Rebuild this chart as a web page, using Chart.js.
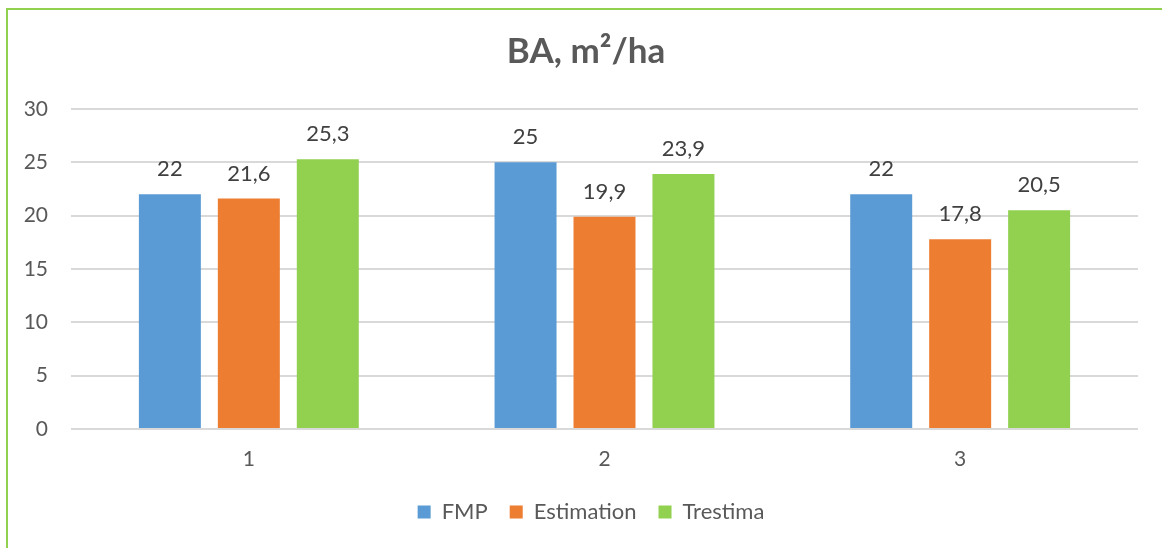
<!DOCTYPE html>
<html>
<head>
<meta charset="utf-8">
<script src="https://cdn.jsdelivr.net/npm/chart.js@4/dist/chart.umd.min.js"></script>
<style>
  html, body { margin: 0; padding: 0; background: #fff; overflow: hidden; }
  #wrap { position: relative; width: 1162px; height: 548px; }
  #marco { position: absolute; left: 6px; top: 8px; width: 1200px; height: 600px;
           border: 2px solid #92D050; box-sizing: border-box; pointer-events: none; }
  canvas { position: absolute; left: 0; top: 0; }
</style>
</head>
<body>
<div id="wrap">
  <canvas id="chartBA" width="1162" height="548"></canvas>
  <div id="marco"></div>
</div>
<script>
/* Datos */
const categorias = ['1', '2', '3'];
const valoresFMP = [22, 25, 22];
const valoresEstimation = [21.6, 19.9, 17.8];
const valoresTrestima = [25.3, 23.9, 20.5];
const ticksY = [0, 5, 10, 15, 20, 25, 30];

const azul = '#5B9BD5';
const naranja = '#ED7D31';
const verde = '#92D050';
const gris = '#595959';
const fuente = 'Lato, "Open Sans", sans-serif';

/* Etiquetas de valor encima de cada barra, con coma decimal */
const etiquetasValor = {
  id: 'etiquetasValor',
  afterDatasetsDraw(chart) {
    const ctx = chart.ctx;
    ctx.save();
    ctx.font = '22px ' + fuente;
    ctx.fillStyle = '#404040';
    ctx.textAlign = 'center';
    ctx.textBaseline = 'alphabetic';
    chart.data.datasets.forEach((ds, i) => {
      chart.getDatasetMeta(i).data.forEach((bar, j) => {
        const txt = String(ds.data[j]).replace('.', ',');
        ctx.fillText(txt, bar.x, bar.y - 18);
      });
    });
    ctx.restore();
  }
};

/* Desplaza título y leyenda un poco a la derecha, como en el original */
const desplazarCajas = {
  id: 'desplazarCajas',
  afterLayout(chart) {
    if (chart.titleBlock) { chart.titleBlock.left += 17; chart.titleBlock.right += 17; }
    if (chart.legend) { chart.legend.left += 22; chart.legend.right += 22; }
  }
};

const ctx = document.getElementById('chartBA').getContext('2d');
new Chart(ctx, {
  type: 'bar',
  data: {
    labels: categorias,
    datasets: [
      { label: 'FMP', data: valoresFMP, backgroundColor: azul },
      { label: 'Estimation', data: valoresEstimation, backgroundColor: naranja },
      { label: 'Trestima', data: valoresTrestima, backgroundColor: verde }
    ]
  },
  options: {
    responsive: false,
    animation: false,
    devicePixelRatio: 1,
    categoryPercentage: 0.666,
    barPercentage: 0.785,
    layout: { padding: { left: 0, right: 24, top: 0, bottom: 15 } },
    plugins: {
      title: {
        display: true,
        text: 'BA, m²/ha',
        color: gris,
        font: { family: fuente, size: 35, weight: 'bold' },
        padding: { top: 31, bottom: 36 }
      },
      legend: {
        position: 'bottom',
        labels: {
          color: gris,
          font: { family: fuente, size: 22 },
          boxWidth: 13,
          boxHeight: 13,
          padding: 22
        }
      },
      tooltip: { enabled: false }
    },
    scales: {
      y: {
        min: 0,
        max: 30,
        afterFit: s => { s.width = 71; },
        afterBuildTicks: s => { s.ticks = ticksY.map(v => ({ value: v })); },
        border: { display: false },
        grid: { color: '#D9D9D9', lineWidth: 2, drawTicks: false },
        ticks: { color: gris, padding: 23, font: { family: fuente, size: 21 } }
      },
      x: {
        afterFit: s => { s.height = 50; },
        border: { display: false },
        grid: { display: false, drawTicks: false },
        ticks: { color: gris, padding: 18, font: { family: fuente, size: 21 } }
      }
    }
  },
  plugins: [etiquetasValor, desplazarCajas]
});
</script>
</body>
</html>
